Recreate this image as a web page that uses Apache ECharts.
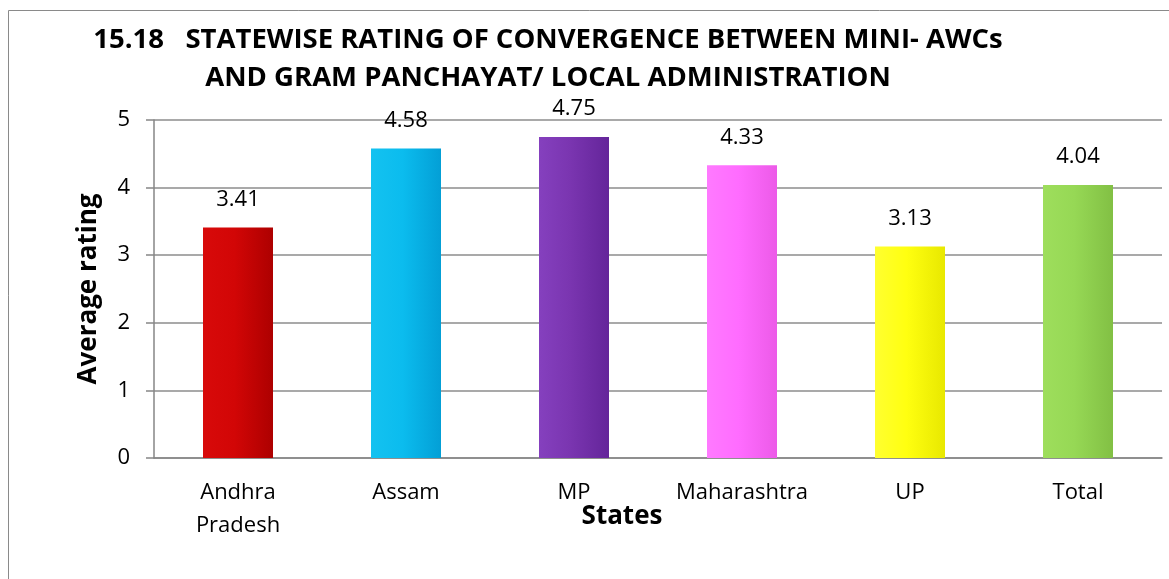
<!DOCTYPE html>
<html><head><meta charset="utf-8">
<script src="https://cdn.jsdelivr.net/npm/echarts@6/dist/echarts.min.js"></script>
<style>html,body{margin:0;padding:0;background:#fff}#c{width:1169px;height:579px}</style>
</head><body><div id="c"></div>
<script>
const categories = ['Andhra\nPradesh', 'Assam', 'MP', 'Maharashtra', 'UP', 'Total'];
const values = [3.41, 4.58, 4.75, 4.33, 3.13, 4.04];
const yTicks = [0, 1, 2, 3, 4, 5];
const barColors = [
  ['#d80a0a', '#d20606', '#ad0000'],
  ['#14c2f0', '#0bbcee', '#039fd6'],
  ['#8540be', '#7a35b0', '#64259a'],
  ['#ff7aff', '#ff6cff', '#ec5ae8'],
  ['#ffff30', '#ffff10', '#e8e800'],
  ['#9ede5c', '#96d855', '#82c044']
];
const LBL = '"Open Sans", "Noto Sans", sans-serif';
const BOLD = '"Open Sans", sans-serif';
const chart = echarts.init(document.getElementById('c'));
chart.setOption({
  animation: false,
  backgroundColor: '#fff',
  title: {
    text: '15.18   STATEWISE RATING OF CONVERGENCE BETWEEN MINI- AWCs\nAND GRAM PANCHAYAT/ LOCAL ADMINISTRATION',
    left: 543, top: 16, textAlign: 'center',
    textStyle: { fontFamily: BOLD, fontWeight: 'bold', fontSize: 27.5, lineHeight: 38, color: '#000', align: 'center' }
  },
  grid: { left: 154, right: 7, top: 120, bottom: 121, containLabel: false },
  xAxis: {
    type: 'category', data: categories,
    axisLine: { show: true, lineStyle: { color: '#868686', width: 1.5 } },
    axisTick: { show: false },
    axisLabel: { fontFamily: LBL, fontSize: 22, color: '#000', lineHeight: 33, margin: 18, interval: 0 }
  },
  yAxis: {
    type: 'value', min: yTicks[0], max: yTicks[yTicks.length - 1], interval: 1,
    name: 'Average rating', nameLocation: 'middle', nameGap: 52, nameRotate: 90,
    nameTextStyle: { fontFamily: BOLD, fontWeight: 'bold', fontSize: 26, color: '#000' },
    axisLine: { show: true, lineStyle: { color: '#868686', width: 1.5 } },
    axisTick: { show: true, length: 8, lineStyle: { color: '#868686', width: 1.5 } },
    axisLabel: { fontFamily: LBL, fontSize: 22, color: '#000', margin: 24 },
    splitLine: { show: true, lineStyle: { color: '#8c8c8c', width: 1.5 } }
  },
  series: [{
    type: 'bar',
    barWidth: 70,
    data: values.map((v, i) => ({
      value: v,
      itemStyle: {
        color: new echarts.graphic.LinearGradient(0, 0, 1, 0, [
          { offset: 0, color: barColors[i][0] },
          { offset: 0.45, color: barColors[i][1] },
          { offset: 1, color: barColors[i][2] }
        ])
      }
    })),
    label: { show: true, position: 'top', distance: 17, fontFamily: LBL, fontSize: 22, color: '#000',
      formatter: p => p.value.toFixed(2) }
  }],
  graphic: [
    { type: 'rect', shape: { x: 8.5, y: 10.5, width: 1200, height: 700 }, style: { fill: 'none', stroke: '#8a8a8a', lineWidth: 1 }, silent: true },
    { type: 'text', x: 622, y: 517, style: { text: 'States', fontFamily: BOLD, fontWeight: 'bold', fontSize: 26, fill: '#000', align: 'center', verticalAlign: 'middle' } }
  ]
});
</script></body></html>
